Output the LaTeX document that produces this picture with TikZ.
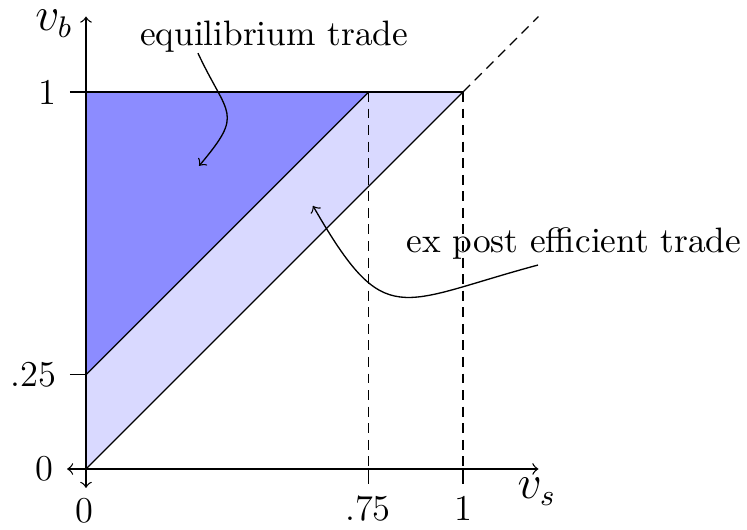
\documentclass[tikz,border=0pt]{standalone}
\begin{document}
\begin{tikzpicture}[x=4cm,y=4cm,
  font=\fontsize{10.66}{13}\selectfont, >=to,
  thinline/.style={line width=0.4pt},
  axis/.style={<->, thinline},
  dashline/.style={thinline, dash pattern=on 3pt off 2pt},
  darkfill/.style={fill=blue!45},
  lightfill/.style={fill=blue!15},
  pointer/.style={->, thinline},
  ticklabel/.style={font=\fontsize{11}{13}\selectfont},
  axlabel/.style={inner sep=0pt, font=\fontsize{13.5}{15}\selectfont}]
\useasboundingbox (-0.2281,-0.1592) rectangle (1.7533,1.2440);
% points
\coordinate (O) at (0,0);
\coordinate (A) at (0,0.25);
\coordinate (B) at (0,1);
\coordinate (C) at (0.75,1);
\coordinate (D) at (1,1);
\coordinate (C0) at (0.75,0);
\coordinate (D0) at (1,0);
\coordinate (E) at (1.2,1.2);
\coordinate (Bt) at (-0.043,1);
\coordinate (At) at (-0.043,0.25);
\coordinate (C0t) at (0.75,-0.04);
\coordinate (D0t) at (1,-0.04);
\coordinate (XL) at (-0.05,0);
\coordinate (XR) at (1.2,0);
\coordinate (YB) at (0,-0.05);
\coordinate (YT) at (0,1.2);
% regions
\fill[lightfill] (O) -- (A) -- (C) -- (D) -- cycle;
\fill[darkfill] (A) -- (B) -- (C) -- cycle;
% lines
\draw[thinline] (Bt) -- (D);
\draw[thinline] (At) -- (A);
\draw[thinline] (A) -- (C);
\draw[thinline] (O) -- (D);
\draw[dashline] (D) -- (E);
\draw[dashline] (C) -- (C0);
\draw[dashline] (D) -- (D0);
\draw[thinline] (C0) -- (C0t);
\draw[thinline] (D0) -- (D0t);
% axes
\draw[axis] (XL) -- (XR);
\draw[axis] (YB) -- (YT);
% tick labels
\node[ticklabel] (l1) at (-0.103,1) {1};
\node[ticklabel] (l25) at (-0.139,0.25) {.25};
\node[ticklabel] (l0y) at (-0.109,0) {0};
\node[ticklabel] (l0x) at (-0.003,-0.111) {0};
\node[ticklabel] (l75) at (0.748,-0.104) {.75};
\node[ticklabel] (l1x) at (1.0,-0.104) {1};
\node[axlabel] (vs) at (1.196,-0.061) {$v_s$};
\node[axlabel] (vb) at (-0.085,1.182) {$v_b$};
% annotations
\node (eq) at (0.499,1.146) {equilibrium trade};
\node (ex) at (1.294,0.597) {ex post efficient trade};
\coordinate (s1) at (0.297,1.103);
\coordinate (t1) at (0.300,0.804);
\coordinate (s2) at (1.199,0.541);
\coordinate (t2) at (0.602,0.698);
\draw[pointer] (s1) to[out=-65,in=50,looseness=1.6] (t1);
\draw[pointer] (s2) to[out=195,in=-60,looseness=1.6] (t2);
\end{tikzpicture}
\end{document}
